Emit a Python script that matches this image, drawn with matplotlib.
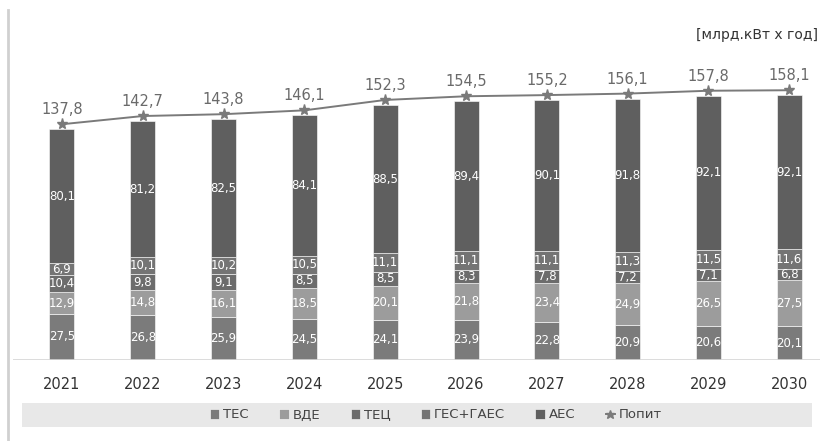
import matplotlib.pyplot as plt
import matplotlib.transforms as mtransforms
from matplotlib.patches import Rectangle
from matplotlib.lines import Line2D
import numpy as np

# data (млрд.кВт х год)
years = ['2021', '2022', '2023', '2024', '2025', '2026', '2027', '2028', '2029', '2030']
tes = [27.5, 26.8, 25.9, 24.5, 24.1, 23.9, 22.8, 20.9, 20.6, 20.1]
vde = [12.9, 14.8, 16.1, 18.5, 20.1, 21.8, 23.4, 24.9, 26.5, 27.5]
tec = [10.4, 9.8, 9.1, 8.5, 8.5, 8.3, 7.8, 7.2, 7.1, 6.8]
ges = [6.9, 10.1, 10.2, 10.5, 11.1, 11.1, 11.1, 11.3, 11.5, 11.6]
aes = [80.1, 81.2, 82.5, 84.1, 88.5, 89.4, 90.1, 91.8, 92.1, 92.1]
popyt = [137.8, 142.7, 143.8, 146.1, 152.3, 154.5, 155.2, 156.1, 157.8, 158.1]

series = [('ТЕС', tes, '#7b7b7b'),
          ('ВДЕ', vde, '#9c9c9c'),
          ('ТЕЦ', tec, '#6c6c6c'),
          ('ГЕС+ГАЕС', ges, '#747474'),
          ('АЕС', aes, '#5f5f5f')]

def fmt(v):
    return ('%.1f' % v).replace('.', ',')

fig = plt.figure(figsize=(8.26, 4.41), dpi=100)
ax = fig.add_axes([13 / 826, 81 / 441, 807 / 826, 350 / 441])

x = np.arange(len(years))
bottom = np.zeros(len(years))
handles = []
for name, vals, col in series:
    bars = ax.bar(x, vals, 0.31, bottom=bottom, color=col, edgecolor='white',
                  linewidth=0.4, label=name)
    handles.append(bars)
    for xi, b, v in zip(x, bottom, vals):
        ax.text(xi, b + v / 2, fmt(v), ha='center', va='center', color='white',
                fontsize=8.5)
    bottom = bottom + np.array(vals)

# demand line, drawn a few pixels above the bar tops
shift = mtransforms.ScaledTranslation(0, 5 / 100, fig.dpi_scale_trans)
line, = ax.plot(x, popyt, color='#7a7a7a', linewidth=1.4, marker='*',
                markersize=8, transform=ax.transData + shift, label='Попит')
for xi, v in zip(x, popyt):
    ax.annotate(fmt(v), (xi, v), xytext=(0, 14), textcoords='offset points',
                ha='center', va='center', color='#6a6a6a', fontsize=10.5)

ax.set_xlim(-0.606, 9.38)
ax.set_ylim(0, 209)
ax.axhline(0, color='#d5d5d5', linewidth=1.2)
for s in ax.spines.values():
    s.set_visible(False)
ax.set_yticks([])
ax.set_xticks(x)
ax.set_xticklabels(years, fontsize=10.5, color='#333333')
ax.tick_params(axis='x', length=0, pad=12)

# unit label
fig.text(818 / 826, 1 - 35 / 441, '[млрд.кВт х год]', ha='right', va='center',
         fontsize=10, color='#333333')

# left border line
fig.add_artist(Line2D([8 / 826, 8 / 826], [0, 1 - 10 / 441], color='#d0d0d0',
                      linewidth=2))

# legend band
fig.add_artist(Rectangle((22 / 826, 1 - 427 / 441), 790 / 826, 24 / 441,
                         facecolor='#e8e8e8', edgecolor='none'))
fig.legend(handles + [line], [s[0] for s in series] + ['Попит'],
           loc='center', bbox_to_anchor=(436 / 826, 1 - 415 / 441),
           ncol=6, frameon=False, fontsize=9.5, handlelength=0.7,
           handleheight=0.7, handletextpad=0.3, columnspacing=2.3,
           labelcolor='#444444', markerscale=0.8)

fig.savefig('out.png', dpi=100, facecolor='white')
